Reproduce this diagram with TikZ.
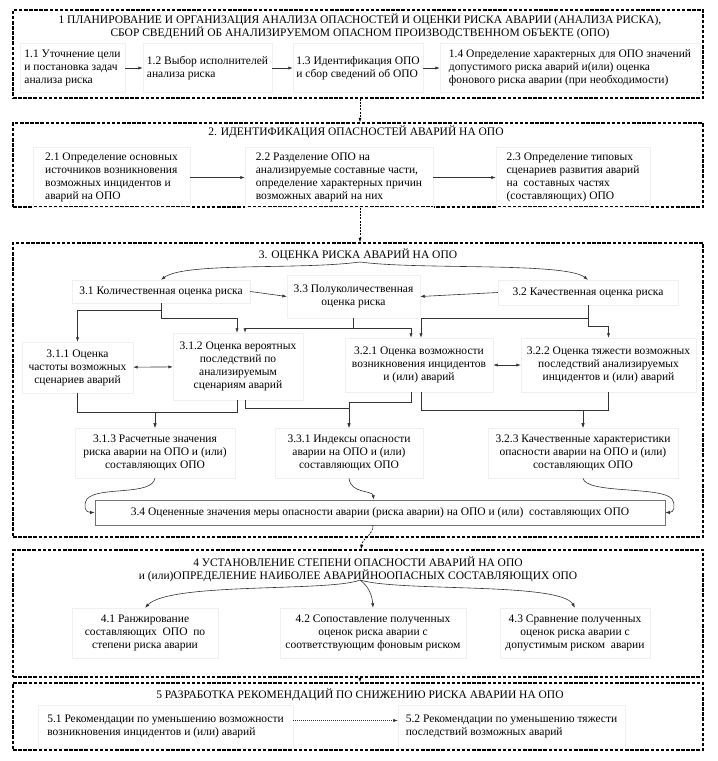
\documentclass[tikz,border=0pt]{standalone}
\usepackage{fontspec}
\setmainfont{Liberation Serif}
\usetikzlibrary{arrows.meta}
\begin{document}
\begin{tikzpicture}[x=1pt,y=-1pt,
  bigbox/.style={draw=black, line width=1.5pt, dash pattern=on 3.5pt off 1.6pt, minimum width=690pt, inner sep=0pt},
  sub/.style={draw=black!6, line width=0.4pt, inner sep=2pt, font=\fontsize{11.5pt}{13pt}\selectfont},
  ttl/.style={inner sep=0pt, align=center, font=\fontsize{11.5pt}{13pt}\selectfont},
  ln/.style={draw=black!80, line width=0.6pt},
  arr/.style={ln, -{Latex[length=4.5pt,width=3.2pt]}},
  darr/.style={ln, {Latex[length=4.5pt,width=3.2pt]}-{Latex[length=4.5pt,width=3.2pt]}},
  conn/.style={draw=black, line width=0.6pt, dash pattern=on 2pt off 1.2pt, -{Latex[length=4.5pt,width=3.2pt]}},
  dotarr/.style={draw=black!80, line width=0.5pt, dash pattern=on 1pt off 1pt, -{Latex[length=4.5pt,width=3.2pt]}}
]
\useasboundingbox (0,0) rectangle (718,761);
% big boxes
\node[bigbox, minimum height=88pt] (B1) at (358,54) {};
\node[bigbox, minimum height=84pt] (B2) at (358,165) {};
\node[bigbox, minimum height=294pt] (B3) at (358,390) {};
\node[bigbox, minimum height=127pt] (B4) at (358,613.5) {};
\node[bigbox, minimum height=67pt] (B5) at (358,716.5) {};

% box 1
\node[ttl] (t1) at (360,26.5) {1 ПЛАНИРОВАНИЕ И ОРГАНИЗАЦИЯ АНАЛИЗА ОПАСНОСТЕЙ И ОЦЕНКИ РИСКА АВАРИИ (АНАЛИЗА РИСКА),\\СБОР СВЕДЕНИЙ ОБ АНАЛИЗИРУЕМОМ ОПАСНОМ ПРОИЗВОДСТВЕННОМ ОБЪЕКТЕ (ОПО)};
\node[sub, align=left, minimum width=105pt, minimum height=49pt] (n11) at (72.5,68) {1.1 Уточнение цели\\и постановка задач\\анализа риска};
\node[sub, align=left, minimum width=129pt, minimum height=49pt] (n12) at (207.5,68) {1.2 Выбор исполнителей\\анализа риска};
\node[sub, align=left, minimum width=130pt, minimum height=49pt] (n13) at (358,68) {1.3 Идентификация ОПО\\и сбор сведений об ОПО};
\node[sub, align=left, minimum width=260pt, minimum height=49pt] (n14) at (570,68) {1.4 Определение характерных для ОПО значений\\допустимого риска аварий и(или) оценка\\фонового риска аварии (при необходимости)};
\draw[arr] (n11) -- (n12);
\draw[arr] (n12) -- (n13);
\draw[arr] (n13) -- (n14);

% box 2
\node[ttl] (t2) at (356,132) {2. ИДЕНТИФИКАЦИЯ ОПАСНОСТЕЙ АВАРИЙ НА ОПО};
\node[sub, align=left, minimum width=157pt, minimum height=60pt] (n21) at (111.5,177.5) {2.1 Определение основных\\источников возникновения\\возможных инцидентов и\\аварий на ОПО};
\node[sub, align=left, minimum width=188pt, minimum height=60pt] (n22) at (339,177.5) {2.2 Разделение ОПО на\\анализируемые составные части,\\определение характерных причин\\возможных аварий на них};
\node[sub, align=left, minimum width=154pt, minimum height=60pt] (n23) at (573,177.5) {2.3 Определение типовых\\сценариев развития аварий\\на\ \ составных частях\\(составляющих) ОПО};
\draw[arr] (n21) -- (n22);
\draw[arr] (n22) -- (n23);

% box 3
\node[ttl] (t3) at (358,255) {3. ОЦЕНКА РИСКА АВАРИЙ НА ОПО};
\coordinate (c3) at (360,262);
\node[sub, align=center, minimum width=178pt, minimum height=23pt] (n31) at (161,291.5) {3.1 Количественная оценка риска};
\node[sub, align=center, minimum width=133pt, minimum height=43pt] (n33) at (353.5,296.5) {3.3 Полуколичественная\\оценка риска};
\node[sub, align=center, minimum width=180pt, minimum height=25pt] (n32) at (588,292.5) {3.2 Качественная оценка риска};
\draw[arr] (c3) .. controls (300,270) and (185,262) .. (n31.north);
\draw[arr] (c3) .. controls (420,270) and (565,262) .. (n32.north);
\draw[arr] (n31.east) -- (n33.west);
\draw[arr] (n32.west) -- (n33.east);

\node[sub, align=center, minimum width=111pt, minimum height=51pt] (n311) at (77.5,367.5) {3.1.1 Оценка\\частоты возможных\\сценариев аварий};
\node[sub, align=center, minimum width=130pt, minimum height=67pt] (n312) at (238,366.5) {3.1.2 Оценка вероятных\\последствий по\\анализируемым\\сценариям аварий};
\node[sub, align=center, minimum width=148pt, minimum height=54pt] (n321) at (419,365) {3.2.1 Оценка возможности\\возникновения инцидентов\\и (или) аварий};
\node[sub, align=center, minimum width=175pt, minimum height=54pt] (n322) at (608.5,365) {3.2.2 Оценка тяжести возможных\\последствий анализируемых\\инцидентов и (или) аварий};
\draw[darr] (n311) -- (n312);
\draw[darr] (n321) -- (n322);

\draw[arr] (n31.south) -- ++(0,7) -| (n311.north);
\draw[arr] (n31.south) -- ++(0,15) -| ([xshift=-1pt]n312.north);
\draw[arr] (n33.south) -- ++(0,10) -| ([xshift=7pt]n312.north);
\draw[arr] (n33.south) -- ++(0,10) -| ([xshift=-8pt]n321.north);
\draw[arr] (n32.south) -- ++(0,13) -| ([xshift=2pt]n321.north);
\draw[arr] (n32.south) -- ++(0,21) -| (n322.north);

\node[sub, align=center, minimum width=160pt, minimum height=50pt] (n313) at (155,453) {3.1.3 Расчетные значения\\риска аварии на ОПО и (или)\\составляющих ОПО};
\node[sub, align=center, minimum width=148pt, minimum height=50pt] (n331) at (349,453) {3.3.1 Индексы опасности\\аварии на ОПО и (или)\\составляющих ОПО};
\node[sub, align=center, minimum width=190pt, minimum height=50pt] (n323) at (583,453) {3.2.3 Качественные характеристики\\опасности аварии на ОПО и (или)\\составляющих ОПО};

\draw[arr] (n311.south) -- ++(0,19) -| (n313.north);
\draw[arr] ([xshift=-1pt]n312.south) -- ++(0,12) -| (n313.north);
\draw[arr] ([xshift=7pt]n312.south) -- ++(0,8) -| (n331.north);
\draw[arr] ([xshift=-8pt]n321.south) -- ++(0,10) -| (n331.north);
\draw[arr] ([xshift=2pt]n321.south) -- ++(0,18) -| (n323.north);
\draw[arr] (n322.south) -- ++(0,18) -| (n323.north);

\node[draw=black!55, line width=0.6pt, inner sep=2pt, font=\fontsize{11.5pt}{13pt}\selectfont, minimum width=570pt, minimum height=25pt] (n34) at (380,512.5) {3.4 Оцененные значения меры опасности аварии (риска аварии) на ОПО и (или)\ \ составляющих ОПО};
\draw[arr] (n313.south) .. controls +(-3,18) and (98,486) .. (87,499) .. controls (83,506) and (85,512.5) .. (n34.west);
\draw[arr] (n331.south) .. controls +(2,16) and +(-2,-10) .. ([xshift=-6pt]n34.north);
\draw[arr] (n323.south) .. controls +(3,16) and (662,486) .. (672,499) .. controls (676,506) and (674,512.5) .. (n34.east);

% connectors between big boxes
\draw[conn] ([xshift=2pt]B1.south) -- ([xshift=2pt]B2.north);
\draw[conn] ([xshift=2pt]B2.south) -- ([xshift=2pt]B3.north);
\draw[conn] ([xshift=-7pt]n34.south) .. controls +(0,10) and +(2,-12) .. ([xshift=3pt]B4.north);
\draw[conn] ([xshift=2pt]B4.south) -- ([xshift=2pt]B5.north);

% box 4
\node[ttl] (t4) at (358,569) {4 УСТАНОВЛЕНИЕ СТЕПЕНИ ОПАСНОСТИ АВАРИЙ НА ОПО\\и (или)ОПРЕДЕЛЕНИЕ НАИБОЛЕЕ АВАРИЙНООПАСНЫХ СОСТАВЛЯЮЩИХ ОПО};
\coordinate (c4) at (360,580);
\node[sub, align=center, minimum width=146pt, minimum height=50pt] (n41) at (145,633) {4.1 Ранжирование\\составляющих\ \ ОПО\ \ по\\степени риска аварии};
\node[sub, align=center, minimum width=186pt, minimum height=50pt] (n42) at (373,633) {4.2 Сопоставление полученных\\оценок риска аварии с\\соответствующим фоновым риском};
\node[sub, align=center, minimum width=150pt, minimum height=50pt] (n43) at (575,633) {4.3 Сравнение полученных\\оценок риска аварии с\\допустимым риском\ \ аварии};
\draw[arr] (c4) .. controls (330,592) and (170,582) .. (n41.north);
\draw[arr] (c4) .. controls (368,586) and (372,594) .. (n42.north);
\draw[arr] (c4) .. controls (400,592) and (560,582) .. (n43.north);

% box 5
\node[ttl] (t5) at (360,695) {5 РАЗРАБОТКА РЕКОМЕНДАЦИЙ ПО СНИЖЕНИЮ РИСКА АВАРИИ НА ОПО};
\node[sub, align=left, minimum width=255pt, minimum height=43pt] (n51) at (165.5,726.5) {5.1 Рекомендации по уменьшению возможности\\возникновения инцидентов и (или) аварий};
\node[sub, align=left, minimum width=227pt, minimum height=43pt] (n52) at (511.5,726.5) {5.2 Рекомендации по уменьшению тяжести\\последствий возможных аварий};
\draw[dotarr] ([yshift=6pt]n51.east) -- ([yshift=6pt]n52.west);
\end{tikzpicture}
\end{document}
